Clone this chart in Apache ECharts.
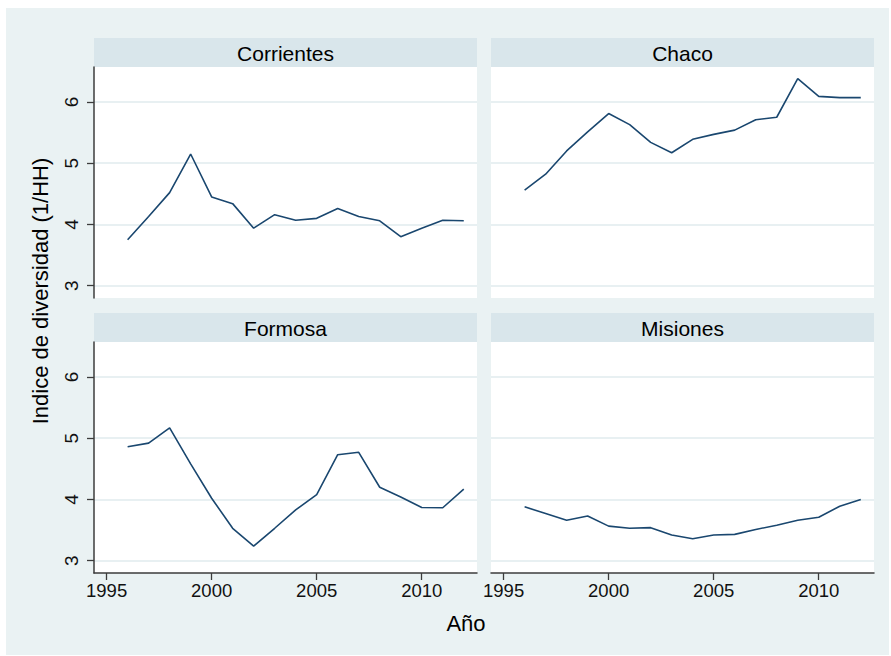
<!DOCTYPE html>
<html>
<head>
<meta charset="utf-8">
<script src="https://cdn.jsdelivr.net/npm/echarts@6/dist/echarts.min.js"></script>
<style>html,body{margin:0;padding:0;background:#fff}#c{width:891px;height:656px}</style>
</head>
<body>
<div id="c"></div>
<script>
const years = [1996,1997,1998,1999,2000,2001,2002,2003,2004,2005,2006,2007,2008,2009,2010,2011,2012];
const panelNames = ['Corrientes','Chaco','Formosa','Misiones'];
const corrientes = [3.75,4.13,4.52,5.15,4.45,4.34,3.94,4.16,4.07,4.10,4.26,4.13,4.06,3.80,3.94,4.07,4.06];
const chaco = [4.56,4.82,5.20,5.51,5.81,5.63,5.34,5.17,5.39,5.47,5.54,5.71,5.75,6.38,6.09,6.07,6.07];
const formosa = [4.86,4.92,5.17,4.58,4.02,3.53,3.24,3.53,3.83,4.08,4.73,4.77,4.20,4.04,3.87,3.865,4.17];
const misiones = [3.88,3.77,3.66,3.73,3.565,3.53,3.54,3.42,3.36,3.42,3.43,3.51,3.58,3.66,3.71,3.89,4.00];
const yTicks = [3,4,5,6];
const xTicks = [1995,2000,2005,2010];
const yTitle = 'Indice de diversidad (1/HH)';
const xTitle = 'Año';

const seriesValues = [corrientes, chaco, formosa, misiones];
const panels = [
  {left:94, top:67},
  {left:491, top:67},
  {left:94, top:342},
  {left:491, top:342}
];
const PW = 383, PH = 231, HH = 29;
const font = 'Liberation Sans, Arial, Helvetica, sans-serif';
const lineCol = '#3c3c3c';

const grids = panels.map(p => ({left:p.left, top:p.top, width:PW, height:PH, show:true, backgroundColor:'#ffffff', borderWidth:0, containLabel:false}));
const xAxes = panels.map((p,i) => {
  const bottom = i >= 2;
  return {
    type:'value', gridIndex:i, min:1994.4, max:2012.63,
    axisLine:{show:bottom, onZero:false, lineStyle:{color:lineCol, width:1.5}},
    axisTick:{show:bottom, length:7, customValues:xTicks, lineStyle:{color:lineCol, width:1.3}},
    axisLabel:{show:bottom, customValues:xTicks, margin:8, fontSize:18.5, color:'#111', fontFamily:font, formatter: v => String(v)},
    splitLine:{show:false}
  };
});
const yAxes = panels.map((p,i) => {
  const left = (i % 2) === 0;
  return {
    type:'value', gridIndex:i, min:2.8, max:6.57,
    axisLine:{show:left, onZero:false, lineStyle:{color:lineCol, width:1.5}},
    axisTick:{show:left, length:7, customValues:yTicks, lineStyle:{color:lineCol, width:1.3}},
    axisLabel:{show:left, customValues:yTicks, rotate:90, margin:13, fontSize:19, color:'#111', fontFamily:font, formatter: v => String(v)},
    splitLine:{show:true, lineStyle:{color:'#e8f0f2', width:2}}
  };
});
const series = seriesValues.map((vals,i) => ({
  type:'line', xAxisIndex:i, yAxisIndex:i, symbol:'none', silent:true,
  lineStyle:{color:'#1a476f', width:1.6},
  data: years.map((y,k) => [y, vals[k]])
}));

const graphic = [
  {type:'rect', z:-10, silent:true, shape:{x:6, y:8, width:883, height:647}, style:{fill:'#eaf2f3'}}
];
panels.forEach((p,i) => {
  graphic.push({type:'rect', z:-5, silent:true, shape:{x:p.left, y:p.top-HH, width:PW, height:HH}, style:{fill:'#d9e6eb'}});
  graphic.push({type:'text', z:5, silent:true, x:p.left+PW/2, y:p.top-HH/2+1,
    style:{text:panelNames[i], fill:'#000', font:'21px ' + font, textAlign:'center', textVerticalAlign:'middle'}});
});
graphic.push({type:'text', silent:true, x:40, y:291, rotation:Math.PI/2,
  style:{text:yTitle, fill:'#000', font:'22px ' + font, textAlign:'center', textVerticalAlign:'middle'}});
graphic.push({type:'text', silent:true, x:466, y:623,
  style:{text:xTitle, fill:'#000', font:'22px ' + font, textAlign:'center', textVerticalAlign:'middle'}});

const chart = echarts.init(document.getElementById('c'), null, {renderer:'svg'});
chart.setOption({
  backgroundColor:'#ffffff',
  animation:false,
  grid:grids, xAxis:xAxes, yAxis:yAxes, series:series, graphic:graphic
});
</script>
</body>
</html>
